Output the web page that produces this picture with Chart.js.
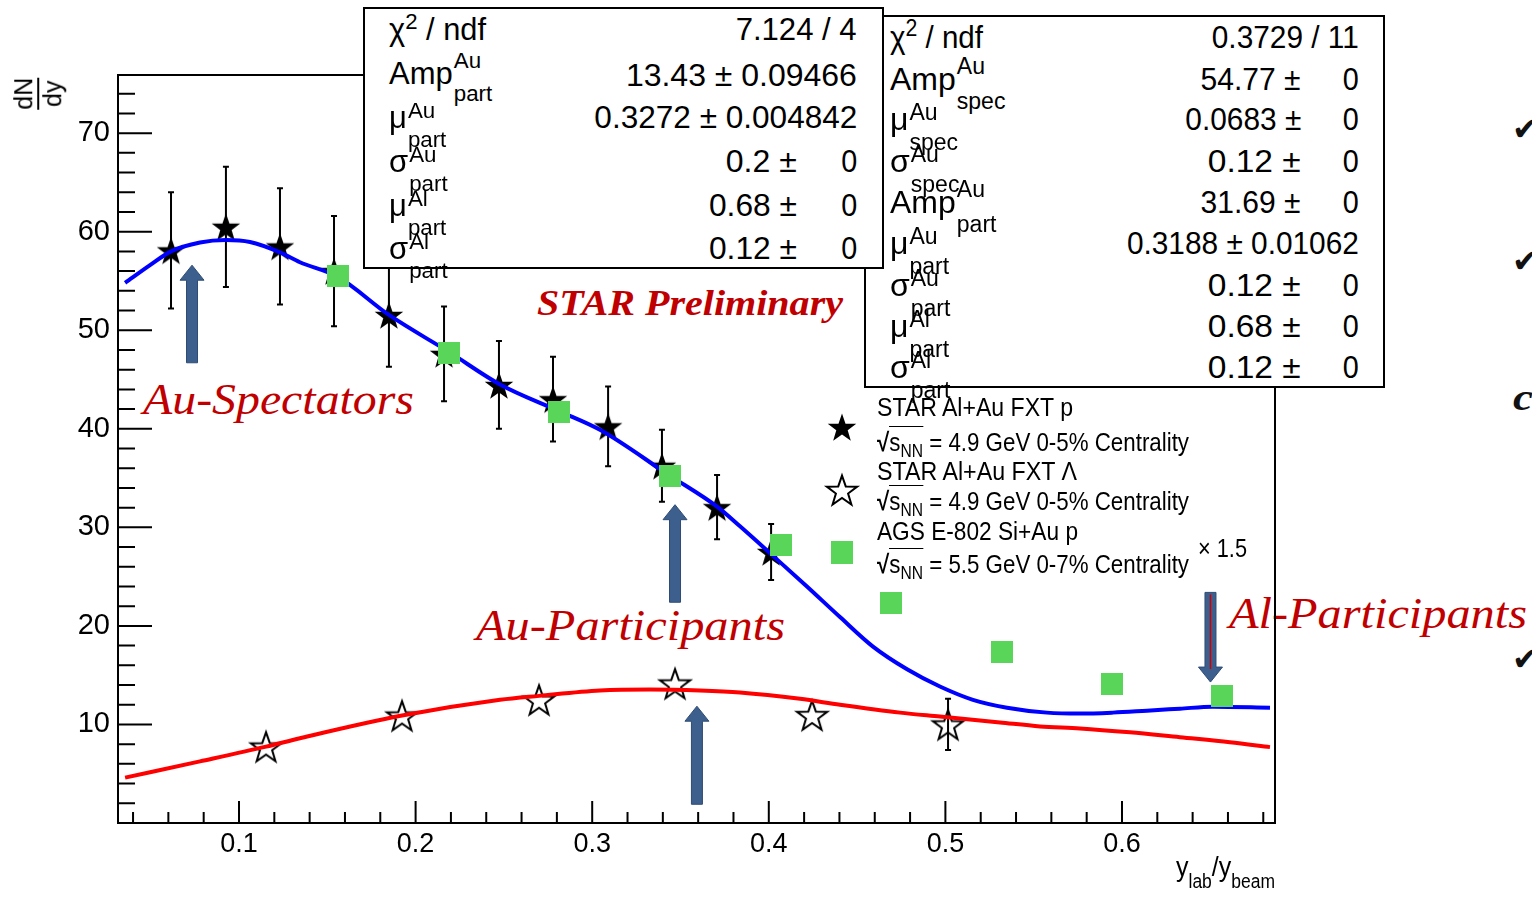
<!DOCTYPE html>
<html>
<head>
<meta charset="utf-8">
<script src="https://cdn.jsdelivr.net/npm/chart.js@4.4.1/dist/chart.umd.min.js"></script>
<style>
html,body{margin:0;padding:0;background:#fff;}
body{width:1532px;height:898px;overflow:hidden;position:relative;font-family:"Liberation Sans",Arial,sans-serif;}
#c{position:absolute;left:0;top:0;z-index:1;}
.t{position:absolute;white-space:nowrap;line-height:1;color:#000;z-index:3;}
.lab{font-family:"Liberation Serif",serif;font-style:italic;color:#c00000;z-index:0;}
.bold{font-weight:bold;}
.box{position:absolute;background:#fff;border:2px solid #000;box-sizing:border-box;z-index:3;}
.bl{display:inline-block;width:0;height:0;vertical-align:baseline;}
.ss{display:inline-flex;flex-direction:column;align-items:flex-start;font-size:0.72em;line-height:1;vertical-align:0.45em;margin-left:1px;}
.ss .sb{margin-top:0.3em;}
.ss.hi{vertical-align:0.7em;}
.ss.hi .sb{margin-top:0.5em;}
.sup2{font-size:0.72em;vertical-align:0.5em;}
.rad{font-weight:bold;}
.ov{border-top:1.5px solid #000;}
.nn{font-size:0.7em;vertical-align:-0.35em;}
.sub{font-size:0.7em;vertical-align:-0.6em;}
.frac{display:inline-flex;flex-direction:column;align-items:center;}
.frac .bar{width:100%;height:1.5px;background:#000;margin:1px 0;}
.chk{font-family:"DejaVu Sans",sans-serif;font-weight:bold;color:#111;z-index:0;}
</style>
</head>
<body>
<canvas id="c" width="1532" height="898"></canvas>
<script>
// STAR Al+Au FXT p (filled stars)
const pX   = [0.0615, 0.0926, 0.1232, 0.1538, 0.1849, 0.2161, 0.2472, 0.2778, 0.3090, 0.3395, 0.3707, 0.4013];
const pY   = [58.1, 60.5, 58.5, 56.0, 51.55, 47.6, 44.45, 43.0, 40.25, 36.25, 32.05, 27.5];
const pErr = [5.9, 6.1, 5.9, 5.6, 5.25, 4.8, 4.45, 4.3, 4.05, 3.65, 3.25, 2.85];

// STAR Al+Au FXT Lambda (open stars)
const lamX   = [0.1153, 0.1923, 0.2699, 0.3469, 0.4245, 0.5015];
const lamY   = [7.75, 10.9, 12.5, 14.15, 10.95, 10.0];
const lamErr = [0, 0, 0, 0, 0, 2.6];

// AGS E-802 Si+Au p (x 1.5)
const agsX = [0.1561, 0.2189, 0.2812, 0.3438, 0.4067, 0.4413, 0.4690, 0.5319, 0.5941, 0.6566];
const agsY = [55.5, 47.7, 41.7, 35.2, 28.2, 27.45, 22.3, 17.4, 14.1, 12.9];

// fit curves
const blueX = [0.0355, 0.0496, 0.0615, 0.0779, 0.0926, 0.1062, 0.1232, 0.1345, 0.1561, 0.1849, 0.2189, 0.2478,
               0.2812, 0.3044, 0.3435, 0.3707, 0.3837, 0.4018, 0.4216, 0.4403, 0.4590, 0.4783, 0.4969, 0.5156,
               0.5349, 0.5575, 0.5762, 0.5949, 0.6141, 0.6328, 0.6515, 0.6838];
const blueY = [54.8, 56.6, 58.0, 58.9, 59.15, 58.95, 57.9, 56.9, 55.4, 51.55, 47.8, 44.5,
               41.8, 39.9, 35.3, 32.1, 30.1, 27.2, 24.0, 20.9, 17.9, 15.6, 13.85, 12.5,
               11.7, 11.2, 11.1, 11.2, 11.4, 11.6, 11.8, 11.7];
const redX = [0.0355, 0.0779, 0.1153, 0.1345, 0.1923, 0.2478, 0.2699, 0.3044, 0.3327, 0.3610, 0.3837,
              0.4177, 0.4403, 0.4743, 0.4969, 0.5309, 0.5536, 0.5762, 0.6045, 0.6328, 0.6611, 0.6838];
const redY = [4.6, 6.25, 7.75, 8.6, 10.9, 12.5, 12.9, 13.45, 13.55, 13.45, 13.25,
              12.6, 12.0, 11.2, 10.8, 10.2, 9.8, 9.6, 9.2, 8.7, 8.2, 7.7];

// axis ticks
const xMajor = [0.1, 0.2, 0.3, 0.4, 0.5, 0.6];
const yMajor = [10, 20, 30, 40, 50, 60, 70];

// annotation arrows, in data units
const arrowMarks = [
  {x: 0.0734, from: 46.7, to: 56.6},
  {x: 0.3469, from: 22.4, to: 32.3},
  {x: 0.3593, from: 1.9,  to: 11.85},
  {x: 0.6501, from: 23.4, to: 14.3, core: true}
];

const toPts = (X, Y) => X.map((v, i) => ({x: v, y: Y[i]}));

function starImg(filled, R){
  const s = Math.ceil(R * 2 + 6);
  const c = document.createElement('canvas');
  c.width = c.height = s;
  const g = c.getContext('2d');
  const cx = s / 2, cy = s / 2 + R * 0.1, r = R * 0.4;
  g.beginPath();
  for(let i = 0; i < 10; i++){
    const a = -Math.PI / 2 + i * Math.PI / 5;
    const rr = i % 2 ? r : R;
    g.lineTo(cx + rr * Math.cos(a), cy + rr * Math.sin(a));
  }
  g.closePath();
  if(filled){ g.fillStyle = '#000'; g.fill(); }
  else { g.lineWidth = 2; g.strokeStyle = '#000'; g.stroke(); }
  return c;
}
function squareImg(){
  const c = document.createElement('canvas');
  c.width = c.height = 22;
  const g = c.getContext('2d');
  g.fillStyle = 'rgb(89,214,89)';
  g.fillRect(0, 0, 22, 22);
  return c;
}
const fullStar = starImg(true, 15);
const openStar = starImg(false, 16);
const greenSq = squareImg();

const decor = {
  id: 'decor',
  beforeDatasetsDraw(chart){
    const {ctx, scales: {x, y}} = chart;
    ctx.save();
    ctx.strokeStyle = '#000';
    ctx.lineWidth = 2;
    const bars = (X, Y, E) => X.forEach((v, i) => {
      if(!E[i]) return;
      const px = x.getPixelForValue(v);
      const y1 = y.getPixelForValue(Y[i] + E[i]);
      const y2 = y.getPixelForValue(Y[i] - E[i]);
      ctx.beginPath();
      ctx.moveTo(px, y1); ctx.lineTo(px, y2);
      ctx.moveTo(px - 3, y1); ctx.lineTo(px + 3, y1);
      ctx.moveTo(px - 3, y2); ctx.lineTo(px + 3, y2);
      ctx.stroke();
    });
    bars(pX, pY, pErr);
    bars(lamX, lamY, lamErr);
    ctx.restore();
  },
  afterDatasetsDraw(chart){
    const {ctx, chartArea: a, scales: {x, y}} = chart;
    ctx.save();

    // arrows
    arrowMarks.forEach(m => {
      const px = x.getPixelForValue(m.x);
      const yb = y.getPixelForValue(m.from);
      const yt = y.getPixelForValue(m.to);
      const d = Math.sign(yt - yb);
      const hw = 5.5, hh = 12, hl = 15;
      const yh = yt - d * hl;
      ctx.beginPath();
      ctx.moveTo(px - hw, yb); ctx.lineTo(px - hw, yh); ctx.lineTo(px - hh, yh);
      ctx.lineTo(px, yt);
      ctx.lineTo(px + hh, yh); ctx.lineTo(px + hw, yh); ctx.lineTo(px + hw, yb);
      ctx.closePath();
      ctx.fillStyle = '#3d5f8d';
      ctx.fill();
      ctx.strokeStyle = '#2f4b73';
      ctx.lineWidth = 1;
      ctx.stroke();
      if(m.core){
        ctx.beginPath();
        ctx.moveTo(px, yb + 2); ctx.lineTo(px, yh + 2);
        ctx.strokeStyle = '#d00000';
        ctx.lineWidth = 1.5;
        ctx.stroke();
      }
    });

    // frame
    ctx.strokeStyle = '#000';
    ctx.lineWidth = 2;
    ctx.strokeRect(a.left, a.top, a.right - a.left, a.bottom - a.top);

    // ticks
    ctx.beginPath();
    yMajor.forEach(v => { const py = y.getPixelForValue(v); ctx.moveTo(a.left, py); ctx.lineTo(a.left + 34, py); });
    for(let v = 2; v < y.max; v += 2){
      if(v % 10 === 0) continue;
      const py = y.getPixelForValue(v); ctx.moveTo(a.left, py); ctx.lineTo(a.left + 17, py);
    }
    xMajor.forEach(v => { const px = x.getPixelForValue(v); ctx.moveTo(px, a.bottom); ctx.lineTo(px, a.bottom - 22); });
    for(let k = 2; k * 0.02 < x.max; k++){
      const v = k * 0.02;
      if(v < x.min || k % 5 === 0) continue;
      const px = x.getPixelForValue(v); ctx.moveTo(px, a.bottom); ctx.lineTo(px, a.bottom - 11);
    }
    ctx.stroke();

    // legend markers
    ctx.drawImage(fullStar, 842 - fullStar.width / 2, 427 - fullStar.height / 2);
    ctx.drawImage(openStar, 842 - openStar.width / 2, 490 - openStar.height / 2);
    ctx.drawImage(greenSq, 842 - 11, 553 - 11);
    ctx.restore();
  }
};

const tickFont = {family: "'Liberation Sans', Arial, sans-serif", size: 27};

const chart = new Chart(document.getElementById('c'), {
  type: 'scatter',
  data: {
    datasets: [
      {label: 'STAR Al+Au FXT p', data: toPts(pX, pY), pointStyle: fullStar, pointRadius: 6, order: 5},
      {label: 'STAR Al+Au FXT Lambda', data: toPts(lamX, lamY), pointStyle: openStar, pointRadius: 6, order: 4},
      {label: 'fit Au', type: 'line', data: toPts(blueX, blueY), borderColor: '#0000ff', borderWidth: 4,
       pointRadius: 0, cubicInterpolationMode: 'monotone', order: 3},
      {label: 'fit Lambda', type: 'line', data: toPts(redX, redY), borderColor: '#ff0000', borderWidth: 4,
       pointRadius: 0, cubicInterpolationMode: 'monotone', order: 2},
      {label: 'AGS E-802 Si+Au p', data: toPts(agsX, agsY), pointStyle: greenSq, pointRadius: 6, order: 1}
    ]
  },
  options: {
    responsive: false,
    animation: false,
    devicePixelRatio: 1,
    layout: {padding: {left: 0, top: 75, right: 257, bottom: 0}},
    plugins: {legend: {display: false}, tooltip: {enabled: false}},
    scales: {
      x: {
        type: 'linear', min: 0.03148, max: 0.68664,
        grid: {display: false}, border: {display: false},
        afterFit: s => { s.height = 75; },
        afterBuildTicks: s => { s.ticks = xMajor.map(v => ({value: v})); },
        ticks: {font: tickFont, color: '#000', padding: -3, maxRotation: 0, autoSkip: false,
                callback: v => String(v)}
      },
      y: {
        type: 'linear', min: 0, max: 75.9,
        grid: {display: false}, border: {display: false},
        afterFit: s => { s.width = 118; },
        afterBuildTicks: s => { s.ticks = yMajor.map(v => ({value: v})); },
        ticks: {font: {...tickFont, size: 29}, color: '#000', padding: 0, autoSkip: false,
                callback: v => String(v)}
      }
    }
  },
  plugins: [decor]
});

// ---------- text overlay ----------
function put(html, o){
  const d = document.createElement('div');
  d.className = 't ' + (o.cls || '');
  d.style.fontSize = o.fs + 'px';
  d.innerHTML = html + '<span class="bl"></span>';
  document.body.appendChild(d);
  const base = d.querySelector('.bl').offsetTop;
  const w = d.getBoundingClientRect().width;
  const right = o.align === 'right';
  d.style.left = (right ? o.x - w : o.x) + 'px';
  d.style.top = (o.y - base) + 'px';
  if(o.w){
    d.style.transformOrigin = right ? 'right top' : 'left top';
    d.style.transform = 'scaleX(' + (o.w / w) + ')';
  }
  return d;
}
function box(x0, y0, x1, y1){
  const b = document.createElement('div');
  b.className = 'box';
  b.style.left = x0 + 'px'; b.style.top = y0 + 'px';
  b.style.width = (x1 - x0) + 'px'; b.style.height = (y1 - y0) + 'px';
  document.body.appendChild(b);
}
const ss = (base, sup, sub, hi) =>
  base + '<span class="ss' + (hi ? ' hi' : '') + '"><span class="sp">' + sup + '</span><span class="sb">' + sub + '</span></span>';
const chi = 'χ<span class="sup2">2</span> / ndf';
const rootS = e => '<span class="rad">√</span><span class="ov">s<span class="nn">NN</span></span> = ' + e;

// labels in red
put('Au-Spectators', {x: 143, y: 414, fs: 44, w: 271, cls: 'lab'});
put('STAR Preliminary', {x: 537, y: 315, fs: 35, w: 306, cls: 'lab bold'});
put('Au-Participants', {x: 476, y: 640, fs: 44, w: 309, cls: 'lab'});
put('Al-Participants', {x: 1229, y: 628, fs: 44, w: 298, cls: 'lab'});

// legend text
put('STAR Al+Au FXT p', {x: 877, y: 416, fs: 26, w: 196});
put(rootS('4.9 GeV 0-5% Centrality'), {x: 877, y: 451, fs: 26, w: 312});
put('STAR Al+Au FXT Λ', {x: 877, y: 480, fs: 26, w: 200});
put(rootS('4.9 GeV 0-5% Centrality'), {x: 877, y: 510, fs: 26, w: 312});
put('AGS E-802 Si+Au p', {x: 877, y: 540, fs: 26, w: 201});
put(rootS('5.5 GeV 0-7% Centrality'), {x: 877, y: 573, fs: 26, w: 312});
put('× 1.5', {x: 1198, y: 557, fs: 26, w: 49});

// axis titles
const yt = put('<span class="frac"><span>dN</span><span class="bar"></span><span>dy</span></span>', {x: 0, y: 100, fs: 25});
{
  const r = yt.getBoundingClientRect();
  yt.style.left = (38 - r.width / 2) + 'px';
  yt.style.top = (94 - r.height / 2) + 'px';
  yt.style.transformOrigin = 'center center';
  yt.style.transform = 'rotate(-90deg)';
}
put('y<span class="sub">lab</span>/y<span class="sub">beam</span>', {x: 1176, y: 876, fs: 28, w: 99});

// stats box, right (drawn first, under the left one)
box(864, 15, 1385, 388);
const b2 = [48, 90, 130, 172, 213, 254, 296, 337, 378];
const b2lab = [chi, ss('Amp', 'Au', 'spec', true), ss('μ', 'Au', 'spec'), ss('σ', 'Au', 'spec'),
               ss('Amp', 'Au', 'part', true), ss('μ', 'Au', 'part'), ss('σ', 'Au', 'part'),
               ss('μ', 'Al', 'part'), ss('σ', 'Al', 'part')];
b2lab.forEach((h, i) => put(h, {x: 890, y: b2[i], fs: 32, w: i === 0 ? 93 : null}));
put('0.3729 / 11', {x: 1359, y: b2[0], fs: 32, w: 147, align: 'right'});
put('0.3188 ± 0.01062', {x: 1359, y: b2[5], fs: 32, w: 232, align: 'right'});
[['54.77 ±', 1, 100], ['0.0683 ±', 2, 116], ['0.12 ±', 3, 93], ['31.69 ±', 4, 100], ['0.12 ±', 6, 93],
 ['0.68 ±', 7, 93], ['0.12 ±', 8, 93]]
  .forEach(([s, i, w]) => {
    put(s, {x: 1301, y: b2[i], fs: 32, w: w, align: 'right'});
    put('0', {x: 1359, y: b2[i], fs: 32, w: 16, align: 'right'});
  });

// stats box, left
box(363, 7, 884, 269);
const b1 = [40, 86, 128, 172, 216, 259];
const b1lab = [chi, ss('Amp', 'Au', 'part', true), ss('μ', 'Au', 'part'), ss('σ', 'Au', 'part'),
               ss('μ', 'Al', 'part'), ss('σ', 'Al', 'part')];
b1lab.forEach((h, i) => put(h, {x: 389, y: b1[i] - (i === 1 ? 2 : 0), fs: 31, w: i === 0 ? 97 : null}));
put('7.124 / 4', {x: 857, y: b1[0], fs: 31, w: 121, align: 'right'});
put('13.43 ± 0.09466', {x: 857, y: b1[1], fs: 31, w: 231, align: 'right'});
put('0.3272 ± 0.004842', {x: 857, y: b1[2], fs: 31, w: 263, align: 'right'});
[['0.2 ±', 3, 71], ['0.68 ±', 4, 88], ['0.12 ±', 5, 88]].forEach(([s, i, w]) => {
  put(s, {x: 797, y: b1[i], fs: 31, w: w, align: 'right'});
  put('0', {x: 857, y: b1[i], fs: 31, w: 16, align: 'right'});
});

// clipped slide marks at the right edge
[140, 272, 670].forEach(b => put('✔', {x: 1512, y: b, fs: 32, cls: 'chk'}));
put('c', {x: 1513, y: 410, fs: 38, cls: 'lab bold', w: 20}).style.color = '#111';
</script>
</body>
</html>
